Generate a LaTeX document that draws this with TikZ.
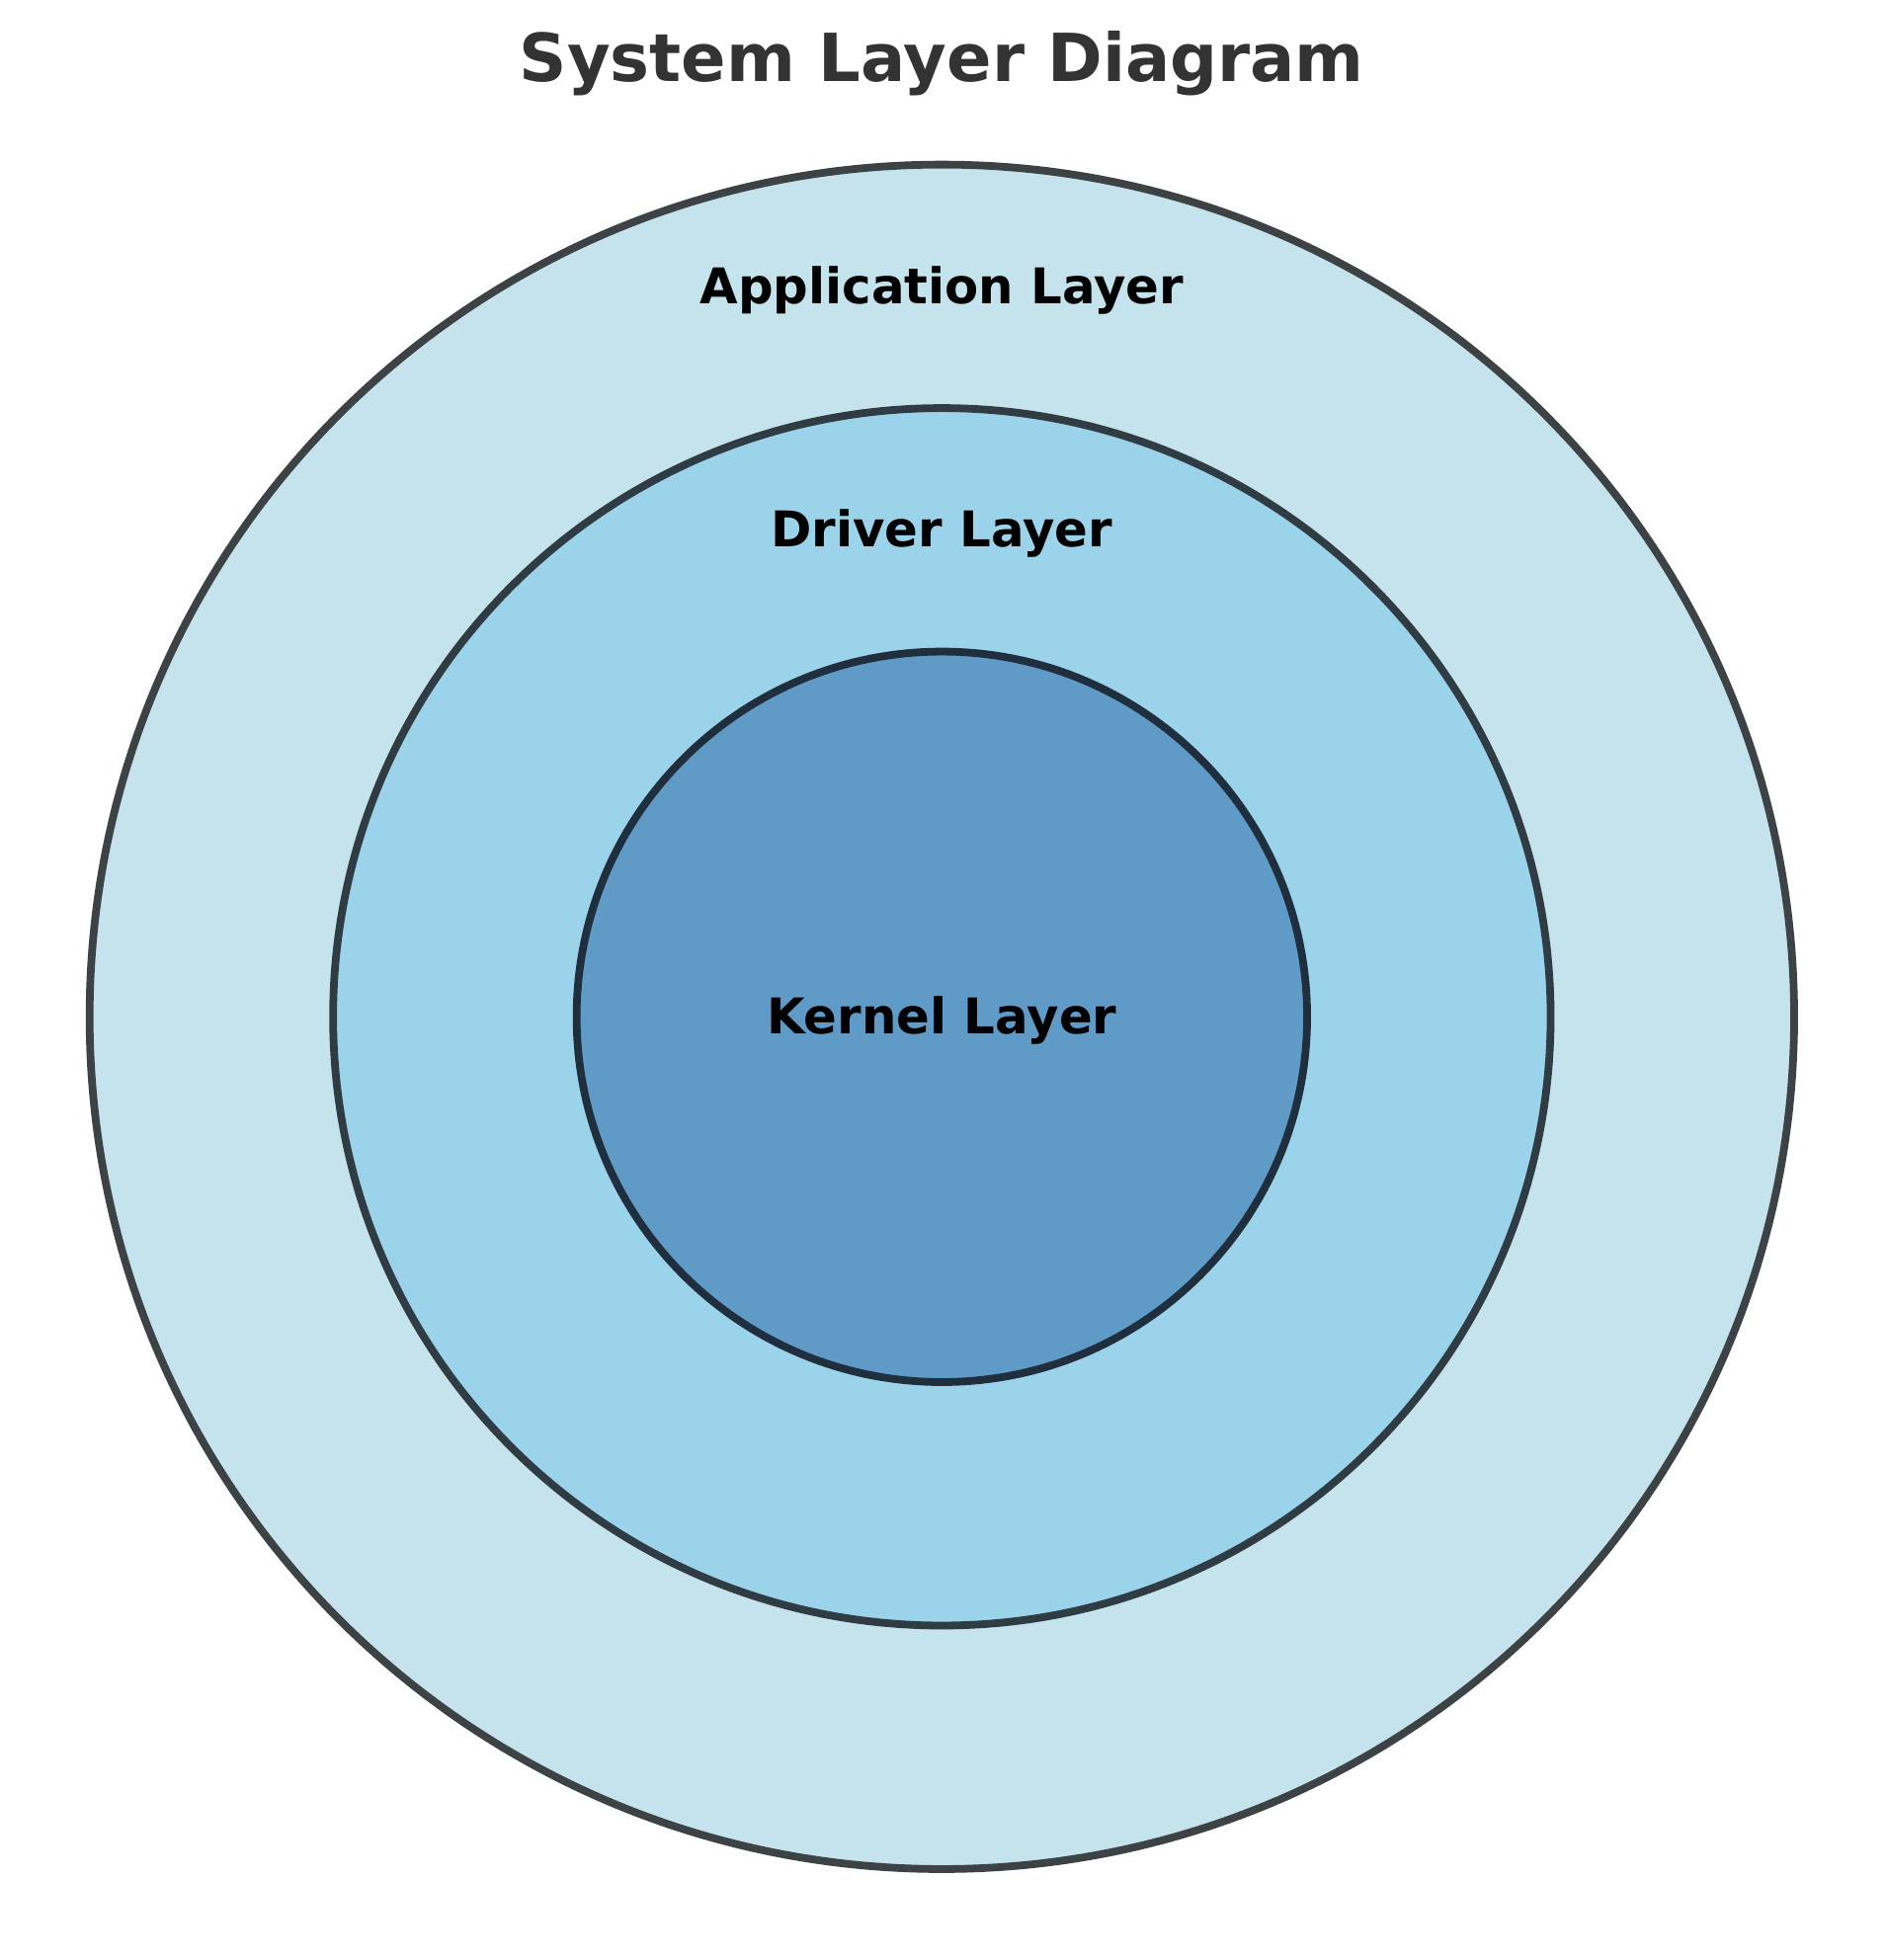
\documentclass[tikz,border=0pt]{standalone}
\usepackage{fontspec}
\setmainfont{DejaVu Sans}
\usetikzlibrary{positioning}
\definecolor{appfill}{HTML}{C5E3EC}
\definecolor{drvfill}{HTML}{9BD3EA}
\definecolor{kerfill}{HTML}{5F9BC6}
\definecolor{appedge}{HTML}{3D4245}
\definecolor{drvedge}{HTML}{2F3C44}
\definecolor{keredge}{HTML}{1F2F3D}
\colorlet{titlecolor}{black!80}
\tikzset{
  layer/.style={
    circle,
    line width=1.8pt,
    inner sep=0pt
  },
  applayer/.style={layer, draw=appedge, fill=appfill, minimum size=14cm},
  drvlayer/.style={layer, draw=drvedge, fill=drvfill, minimum size=10cm},
  kerlayer/.style={layer, draw=keredge, fill=kerfill, minimum size=6cm},
  label/.style={font=\fontsize{11.5}{14}\selectfont\bfseries, text=black},
  heading/.style={font=\fontsize{15.5}{18}\selectfont\bfseries, text=titlecolor}
}

\begin{document}
\begin{tikzpicture}

\useasboundingbox (-7.736,-7.747) rectangle (7.747,8.352);

\node[applayer] (app) at (0,0) {};
\node[drvlayer] (drv) at (0,0) {};
\node[kerlayer] (ker) at (0,0) {};

\node[label] (applabel) at (0,5.97) {Application Layer};
\node[label] (drvlabel) at (0,3.97) {Driver Layer};
\node[label] (kerlabel) at (0,-0.03) {Kernel Layer};

\node[heading] (title) at (0,7.83) {System Layer Diagram};

\end{tikzpicture}
\end{document}
